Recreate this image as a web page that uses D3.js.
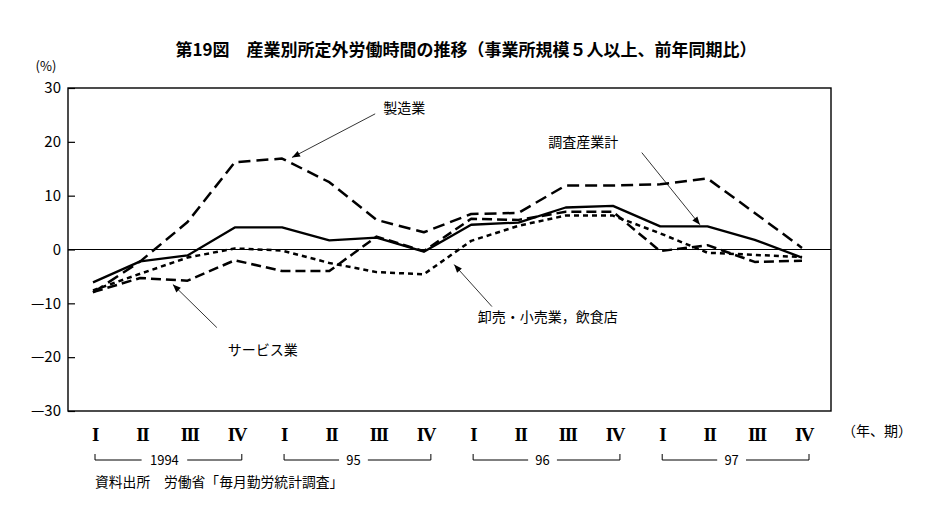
<!DOCTYPE html>
<html><head><meta charset="utf-8">
<script src="https://cdn.jsdelivr.net/npm/d3@7"></script>
<style>
body{margin:0;background:#fff;}
svg{display:block;}
text{font-family:"Noto Sans CJK JP","Noto Sans",sans-serif;fill:#000;}
</style></head><body>
<svg id="chart" width="932" height="516"></svg>
<script>
// ---- data ----
const quarters = ["1994-I","1994-II","1994-III","1994-IV","1995-I","1995-II","1995-III","1995-IV",
                  "1996-I","1996-II","1996-III","1996-IV","1997-I","1997-II","1997-III","1997-IV"];
const quarterLabels = ["I","II","III","IV","I","II","III","IV","I","II","III","IV","I","II","III","IV"];
const yearLabels = ["1994","95","96","97"];
const totalAll      = [-6.1,-2.2,-1.1, 4.1, 4.1, 1.7, 2.2,-0.4, 4.6, 5.0, 7.8, 8.1, 4.3, 4.3, 1.8,-1.5];
const manufacturing = [-8.0,-2.2, 5.1,16.2,16.9,12.5, 5.5, 3.2, 6.6, 6.8,11.9,11.9,12.1,13.2, 6.8, 0.3];
const wholesale     = [-7.6,-4.5,-1.5, 0.2,-0.2,-2.5,-4.2,-4.6, 1.6, 4.4, 6.3, 6.3, 3.0,-0.6,-1.0,-1.4];
const services      = [-7.9,-5.3,-5.8,-2.0,-4.0,-4.0, 2.4,-0.3, 5.7, 5.5, 7.0, 7.0,-0.3, 0.8,-2.3,-2.1];
const yTicks = [-30,-20,-10,0,10,20,30];

const seriesList = [
  {name:"調査産業計", values: totalAll, dash: null, width: 2.3},
  {name:"製造業", values: manufacturing, dash: "12,6", width: 2.5},
  {name:"卸売・小売業，飲食店", values: wholesale, dash: "5,4", width: 2.5},
  {name:"サービス業", values: services, dash: "10,5", width: 2.5}
];
// annotations in data coordinates: [label, textIdx, textVal, tailIdx, tailVal, tipIdx, tipVal]
const notes = [
  ["製造業", 6.14, 26.3, 5.97, 25.2, 4.21, 17.1],
  ["調査産業計", 9.63, 19.9, 11.61, 18.0, 12.84, 4.6],
  ["卸売・小売業，飲食店", 8.14, -12.6, 8.44, -10.6, 7.64, -2.8],
  ["サービス業", 2.85, -18.6, 2.62, -14.5, 1.69, -6.5]
];

// ---- layout ----
const svg = d3.select("#chart");
const L = 68, R = 831, T = 88, B = 411;
const x = d3.scalePoint().domain(quarters).range([93, 802]);
const xi = d3.scaleLinear().domain([0, quarters.length-1]).range([93, 802]);
const y = d3.scaleLinear().domain([-30, 30]).range([B, T]);

svg.append("defs").append("marker")
  .attr("id","arr").attr("viewBox","0 0 10 10").attr("refX",10).attr("refY",5)
  .attr("markerWidth",11).attr("markerHeight",8).attr("markerUnits","userSpaceOnUse")
  .attr("orient","auto")
  .append("path").attr("d","M0,1 L10,5 L0,9 Z").attr("fill","#000");

// title
svg.append("text").attr("x", 466).attr("y", 56).attr("text-anchor","middle")
  .style("font-size","17px").style("font-weight","bold")
  .text("第19図　産業別所定外労働時間の推移（事業所規模５人以上、前年同期比）");

// frame
svg.append("rect").attr("x",L).attr("y",T).attr("width",R-L).attr("height",B-T)
  .attr("fill","none").attr("stroke","#000").attr("stroke-width",1.4);

// y axis
const yAxis = d3.axisLeft(y).tickValues(yTicks).tickSizeInner(-7).tickSizeOuter(0).tickPadding(7)
  .tickFormat(d => d < 0 ? "—" + Math.abs(d) : String(d));
const yg = svg.append("g").attr("transform",`translate(${L},0)`).call(yAxis);
yg.select(".domain").remove();
yg.selectAll("line").attr("stroke","#000").attr("stroke-width",1.2);
yg.selectAll("text").style("font-size","15px").style("font-family",'"Noto Sans CJK JP",sans-serif').attr("fill","#000");
svg.append("text").attr("x",46).attr("y",71).attr("text-anchor","middle").style("font-size","13px").text("(%)");

// zero line
svg.append("line").attr("x1",L).attr("x2",R).attr("y1",y(0)).attr("y2",y(0))
  .attr("stroke","#000").attr("stroke-width",1.2);

// lines
const line = d3.line().x((d,i) => x(quarters[i])).y(d => y(d));
seriesList.forEach(s => {
  svg.append("path").datum(s.values).attr("d", line)
    .attr("fill","none").attr("stroke","#000").attr("stroke-width", s.width)
    .attr("stroke-dasharray", s.dash).attr("stroke-linejoin","round");
});

// annotations
notes.forEach(n => {
  svg.append("line").attr("x1", xi(n[3])).attr("y1", y(n[4])).attr("x2", xi(n[5])).attr("y2", y(n[6]))
    .attr("stroke","#000").attr("stroke-width",0.8).attr("marker-end","url(#arr)");
  svg.append("text").attr("x", xi(n[1])).attr("y", y(n[2])).attr("dy","0.35em")
    .style("font-size","14px").text(n[0]);
});

// x labels (quarters)
svg.append("g").selectAll("text").data(quarters).join("text")
  .attr("x", d => x(d) + 2).attr("y", 441).attr("text-anchor","middle")
  .style("font-family",'"Liberation Serif","DejaVu Serif",serif').style("font-weight","bold")
  .style("font-size","19px").style("letter-spacing","-1.5px")
  .text((d,i) => quarterLabels[i]);
svg.append("text").attr("x", 842).attr("y", 436).style("font-size","14px").text("（年、期）");

// year brackets
const yb = svg.append("g");
yearLabels.forEach((lab, k) => {
  const x0 = x(quarters[k*4]) + 2, x1 = x(quarters[k*4+3]) + 7;
  const cx = (x0 + x1) / 2 - 4;
  const half = lab.length * 4.2 + 6;
  yb.append("path").attr("d", `M${x0},454 V460 H${cx-half} M${cx+half},460 H${x1} V454`)
    .attr("fill","none").attr("stroke","#000").attr("stroke-width",1);
  yb.append("text").attr("x", cx).attr("y", 460).attr("dy","0.35em").attr("text-anchor","middle")
    .style("font-size","13px").text(lab);
});

// source
svg.append("text").attr("x", 95).attr("y", 482).attr("dy","0.35em").style("font-size","13.8px")
  .text("資料出所　労働省「毎月勤労統計調査」");
</script>
</body></html>
